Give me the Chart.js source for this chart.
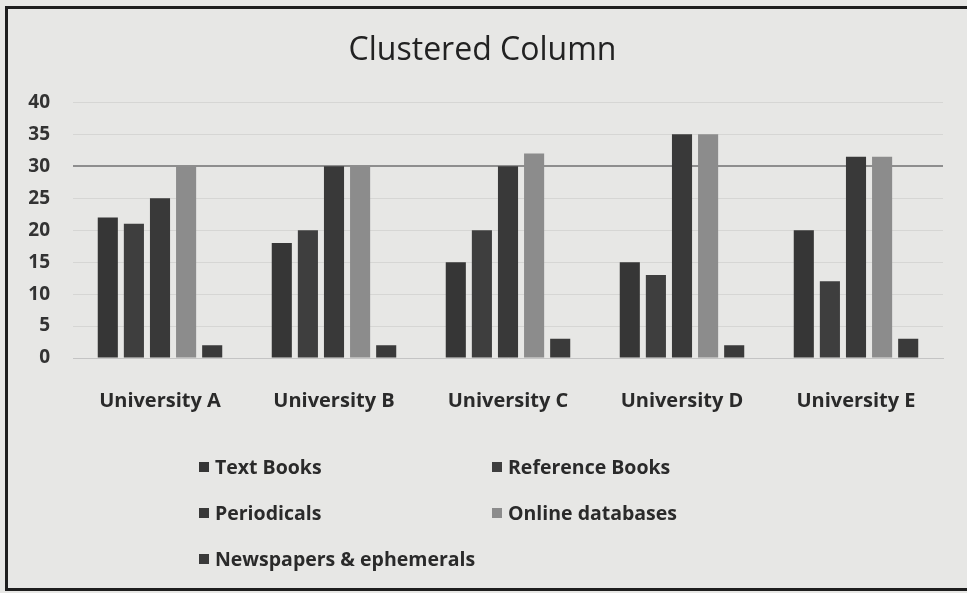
<!DOCTYPE html>
<html>
<head>
<meta charset="utf-8">
<script src="https://cdn.jsdelivr.net/npm/chart.js@4/dist/chart.umd.min.js"></script>
<style>
  html, body { margin: 0; padding: 0; background: #e7e7e5; }
  #wrap { position: relative; width: 967px; height: 593px; overflow: hidden; }
  #frame {
    position: absolute; left: 5px; top: 6px; width: 980px; height: 579px;
    border: 3px solid #1e1e1e; pointer-events: none;
  }
  #legend {
    position: absolute; left: 199px; top: 453px;
    display: grid; grid-template-columns: 293px 293px; grid-auto-rows: 46px;
    font-family: "Open Sans", Lato, sans-serif; font-weight: bold; font-size: 19.5px; color: #2a2a2a;
  }
  #legend span.box { display: inline-block; width: 10px; height: 10px; margin-right: 6px; vertical-align: 2px; }
</style>
</head>
<body>
<div id="wrap">
  <canvas id="chart" width="967" height="593"></canvas>
  <div id="frame"></div>
  <div id="legend"></div>
</div>
<script>
const universities = ["University A", "University B", "University C", "University D", "University E"];
const textBooks = [22, 18, 15, 15, 20];
const referenceBooks = [21, 20, 20, 13, 12];
const periodicals = [25, 30, 30, 35, 31.5];
const onlineDatabases = [30, 30, 32, 35, 31.5];
const newspapers = [2, 2, 3, 2, 3];

const seriesNames = ["Text Books", "Reference Books", "Periodicals", "Online databases", "Newspapers & ephemerals"];
const seriesColors = ["#363636", "#3e3e3e", "#393939", "#8c8c8c", "#3a3a3a"];
const seriesData = [textBooks, referenceBooks, periodicals, onlineDatabases, newspapers];

const font = "'Open Sans', Lato, sans-serif";

const chart = new Chart(document.getElementById("chart").getContext("2d"), {
    type: "bar",
    data: {
        labels: universities,
        datasets: seriesNames.map((name, i) => ({
            label: name,
            data: seriesData[i],
            backgroundColor: seriesColors[i],
            borderWidth: 0,
            categoryPercentage: 0.75,
            barPercentage: 0.77
        }))
    },
    options: {
        responsive: false,
        animation: false,
        layout: { padding: { left: 22, right: 24, top: 0, bottom: 175 } },
        plugins: {
            legend: { display: false },
            tooltip: { enabled: false },
            title: {
                display: true,
                text: "Clustered Column",
                color: "#222",
                font: { family: font, size: 32, weight: "normal" },
                padding: { top: 32, bottom: 32 }
            }
        },
        scales: {
            x: {
                grid: { display: false },
                border: { display: true, color: "#c4c4c4" },
                ticks: { color: "#2a2a2a", font: { family: font, size: 20, weight: "bold" }, padding: 23 },
                afterFit: s => { s.height = 60; }
            },
            y: {
                min: 0, max: 40,
                ticks: { stepSize: 5, color: "#333", font: { family: font, size: 19, weight: "bold" }, padding: 23 },
                grid: {
                    drawTicks: false,
                    color: c => (c.tick && c.tick.value === 30) ? "#8e8e8e" : "#d6d6d4",
                    lineWidth: c => (c.tick && c.tick.value === 30) ? 2 : 1
                },
                border: { display: false },
                afterFit: s => { s.width = 51; }
            }
        }
    }
});

// legend in two columns, from the chart datasets
const legend = document.getElementById("legend");
chart.data.datasets.forEach(ds => {
    const item = document.createElement("div");
    item.innerHTML = '<span class="box" style="background:' + ds.backgroundColor + '"></span>' + ds.label;
    legend.appendChild(item);
});
</script>
</body>
</html>
